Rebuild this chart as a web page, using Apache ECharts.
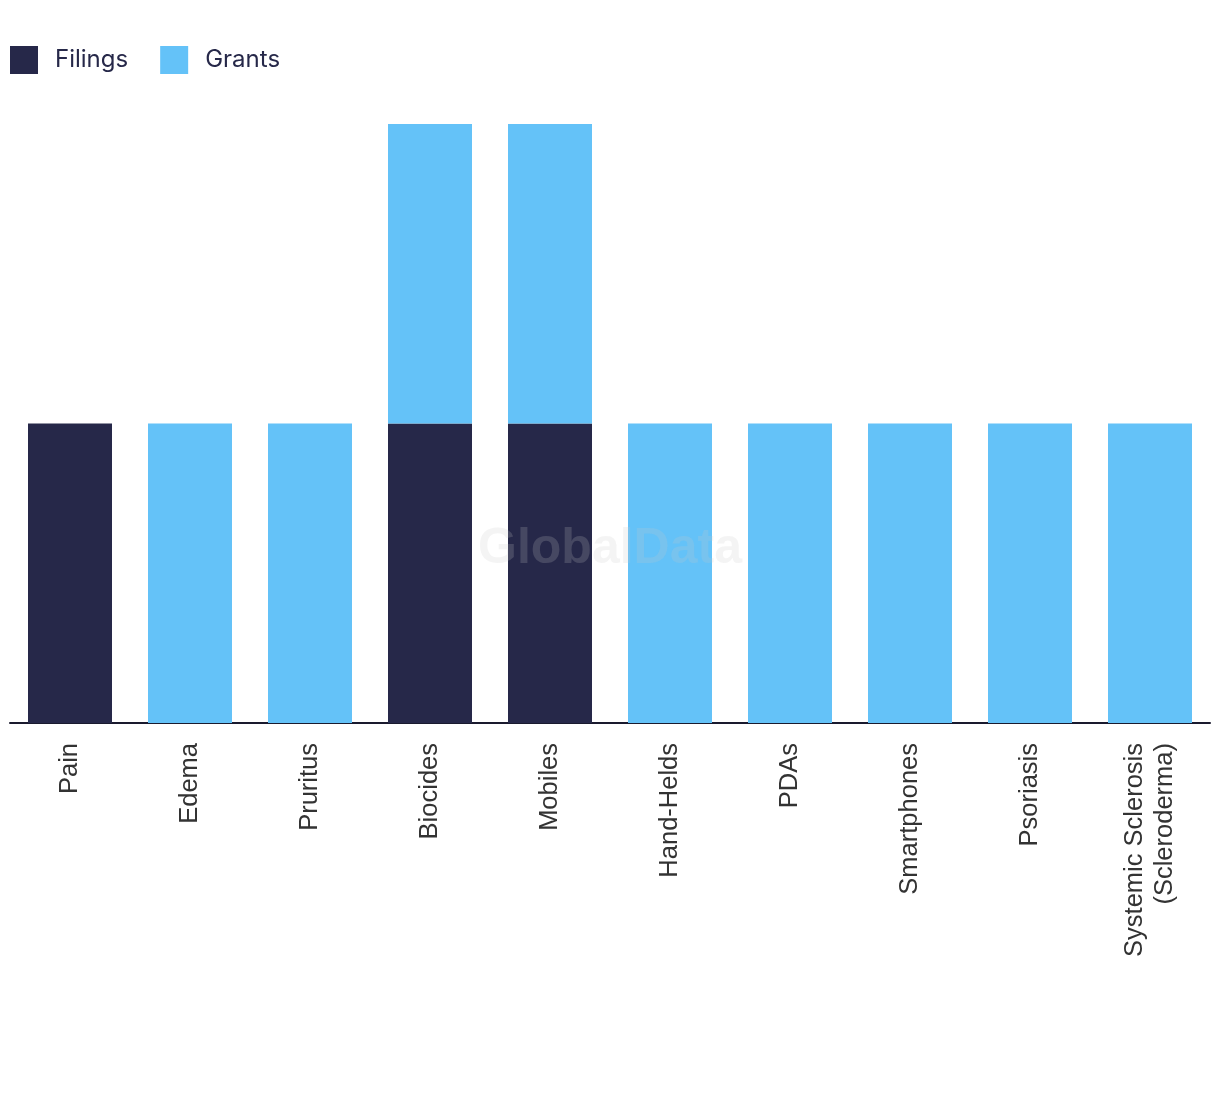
<!DOCTYPE html>
<html>
<head>
<meta charset="utf-8">
<script src="https://cdn.jsdelivr.net/npm/echarts@6/dist/echarts.min.js"></script>
<style>
html,body{margin:0;padding:0;background:#fff;}
#chart{width:1220px;height:1094px;}
</style>
</head>
<body>
<div id="chart"></div>
<script>
var categories = ['Pain','Edema','Pruritus','Biocides','Mobiles','Hand-Helds','PDAs','Smartphones','Psoriasis','Systemic Sclerosis\n(Scleroderma)'];
var filings = [1,0,0,1,1,0,0,0,0,0];
var grants = [0,1,1,1,1,1,1,1,1,1];

var chart = echarts.init(document.getElementById('chart'));
chart.setOption({
  animation: false,
  color: ['#262849','#64C2F8'],
  legend: {
    left: 10, top: 46, padding: 0,
    itemWidth: 28, itemHeight: 28, itemGap: 32,
    icon: 'rect',
    textStyle: {fontFamily: 'Inter', fontSize: 24, color: '#262849', padding: [0,0,0,12]},
    data: ['Filings','Grants']
  },
  grid: {left: 10, right: 10, top: 124, bottom: 371, containLabel: false},
  xAxis: {
    type: 'category',
    data: categories,
    axisLine: {lineStyle: {color: '#1a1a2e', width: 2}},
    axisTick: {show: false},
    axisLabel: {rotate: 90, interval: 0, margin: 20, fontFamily: 'Liberation Sans', fontSize: 25.5, color: '#333', lineHeight: 30}
  },
  yAxis: {type: 'value', min: 0, max: 2, show: false, splitLine: {show: false}},
  graphic: [{
    type: 'text', left: 'center', top: 524, z: 100,
    style: {text: 'GlobalData', font: 'bold 50px "Liberation Sans"', fill: 'rgba(200,200,200,0.2)'}
  }],
  series: [
    {name: 'Filings', type: 'bar', stack: 'a', barWidth: '70%', data: filings},
    {name: 'Grants', type: 'bar', stack: 'a', barWidth: '70%', data: grants}
  ]
});
</script>
</body>
</html>
